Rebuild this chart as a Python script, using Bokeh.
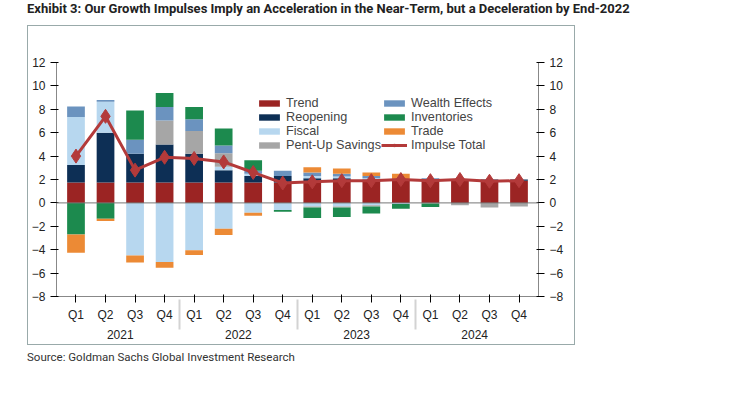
from bokeh.plotting import figure
from bokeh.models import FactorRange, Range1d, LinearAxis, Label, Span, Div, Legend, LegendItem, ColumnDataSource, FixedTicker
from bokeh.layouts import column
from bokeh.embed import file_html
from bokeh.resources import INLINE

years = ["2021", "2022", "2023", "2024"]
quarters = ["Q1", "Q2", "Q3", "Q4"]
trend = [1.75]*8 + [1.8, 1.8, 1.85, 1.9, 1.9, 1.9, 1.9, 1.9]
reopen = [1.5, 4.25, 2.45, 3.25, 2.45, 1.05, 0.55, 0.55, 0.3, 0.3, 0.15, 0.05, 0.1, 0.05, 0.1, 0.1]
fiscal_p = [4.1, 2.65, 0, 0, 0, 0.3, 0.2, 0, 0.2, 0.15, 0.1, 0, 0, 0, 0, 0]
pentup_p = [0, 0, 0, 2.05, 1.95, 1.15, 0, 0, 0, 0, 0, 0, 0, 0, 0, 0]
wealth_p = [0.9, 0.15, 1.2, 1.15, 1.0, 0.65, 0.25, 0.45, 0.3, 0.25, 0.2, 0.1, 0.1, 0, 0, 0]
invent_p = [0, 0, 2.5, 1.2, 1.05, 1.45, 0.9, 0, 0, 0, 0, 0, 0, 0, 0, 0]
trade_p = [0, 0, 0, 0, 0, 0, 0, 0, 0.45, 0.45, 0.3, 0.45, 0, 0, 0, 0]
fiscal_n = [0, 0, -4.5, -5.05, -4.05, -2.2, -0.85, -0.6, -0.3, -0.3, -0.2, -0.1, 0, 0, 0, 0]
pentup_n = [0, 0, 0, 0, 0, 0, 0, 0, -0.1, -0.1, -0.1, 0, -0.05, -0.2, -0.4, -0.3]
invent_n = [-2.7, -1.35, 0, 0, 0, 0, 0, -0.15, -0.9, -0.8, -0.6, -0.4, -0.3, 0, 0, 0]
trade_n = [-1.55, -0.2, -0.6, -0.5, -0.4, -0.55, -0.25, 0, 0, 0, 0, 0, 0, 0, 0, 0]
impulse = [4.0, 7.4, 2.8, 3.9, 3.8, 3.5, 2.6, 1.7, 1.8, 1.9, 1.9, 2.0, 1.9, 2.0, 1.85, 1.9]

x = [(y, q) for y in years for q in quarters]
src = ColumnDataSource(dict(x=x, trend=trend, reopen=reopen, fiscal_p=fiscal_p, pentup_p=pentup_p,
    wealth_p=wealth_p, invent_p=invent_p, trade_p=trade_p, fiscal_n=fiscal_n, pentup_n=pentup_n,
    invent_n=invent_n, trade_n=trade_n, impulse=impulse))

C = dict(trend="#9b2423", reopen="#0d2f55", fiscal="#b7d7ef", pentup="#a6a6a6",
         wealth="#6b93bf", invent="#1c8a4e", trade="#ec8a35", imp="#b33a3a")

p = figure(x_range=FactorRange(*x, factor_padding=0, group_padding=0, range_padding=0.02),
           y_range=Range1d(-8, 12), width=548, height=320, output_backend="svg",
           toolbar_location=None, min_border_left=27, min_border_right=38,
           min_border_top=36, min_border_bottom=50)
p.styles = {"border": "1px solid #9aa"}
p.outline_line_color = None
p.xgrid.visible = False
p.ygrid.visible = False

pos = p.vbar_stack(["trend", "reopen", "fiscal_p", "pentup_p", "wealth_p", "invent_p", "trade_p"],
                   x="x", width=0.6, source=src, line_color=None,
                   color=[C["trend"], C["reopen"], C["fiscal"], C["pentup"], C["wealth"], C["invent"], C["trade"]])
neg = p.vbar_stack(["fiscal_n", "pentup_n", "invent_n", "trade_n"], x="x", width=0.6, source=src,
                   line_color=None, color=[C["fiscal"], C["pentup"], C["invent"], C["trade"]])
p.add_layout(Span(location=0, dimension="width", line_color="#777", line_width=1))
ln = p.line("x", "impulse", source=src, color=C["imp"], line_width=3)
mk = p.scatter("x", "impulse", source=src, marker="diamond", size=14, color=C["imp"])

leg = Legend(items=[
    LegendItem(label="Trend", renderers=[pos[0]]),
    LegendItem(label="Reopening", renderers=[pos[1]]),
    LegendItem(label="Fiscal", renderers=[pos[2]]),
    LegendItem(label="Pent-Up Savings", renderers=[pos[3]]),
    LegendItem(label="Wealth Effects", renderers=[pos[4]]),
    LegendItem(label="Inventories", renderers=[pos[5]]),
    LegendItem(label="Trade", renderers=[pos[6]]),
    LegendItem(label="Impulse Total", renderers=[ln, mk]),
], ncols=2, location=(200, 144), background_fill_alpha=0, border_line_color=None,
   label_text_font_size="9.5pt", label_text_font="Arial", glyph_height=8, glyph_width=26,
   label_height=10, spacing=0, padding=0, margin=0, label_standoff=4)
p.add_layout(leg, "center")

tick = FixedTicker(ticks=list(range(-8, 13, 2)))
p.yaxis.ticker = tick
ra = LinearAxis(ticker=tick)
p.add_layout(ra, "right")
for ax in [p.yaxis[0], ra]:
    ax.major_label_text_font_size = "9pt"
    ax.major_label_text_color = "#222"
    ax.minor_tick_line_color = None
    ax.axis_line_color = "#888"
p.xaxis.major_label_text_font_size = "9pt"
p.xaxis.group_text_font_size = "9pt"
p.xaxis.group_text_color = "#222"
p.xaxis.group_text_font_style = "normal"
p.xaxis.major_label_text_color = "#222"
p.xaxis.axis_line_color = "#888"

for txt, xs in [("Percentage point", 10), ("Contribution  to Real Annualized GDP Forecast", 133), ("Percentage point", 432)]:
    p.add_layout(Label(x=xs, y=288, x_units="screen", y_units="screen", text=txt,
                       text_font_size="9.5pt" if xs != 133 else "8.5pt", text_font="Arial"))

title = Div(text="<b>Exhibit 3: Our Growth Impulses Imply an Acceleration in the Near-Term, but a Deceleration by End-2022</b>",
            styles={"font-family": "Roboto", "font-size": "13px", "color": "#222", "white-space": "nowrap"},
            margin=(0, 0, 6, 27), width=690)
src_div = Div(text="Source: Goldman Sachs Global Investment Research",
              styles={"font-family": "Roboto", "font-size": "11.5px", "color": "#333"}, margin=(4, 0, 0, 27))
p.margin = (0, 0, 0, 27)
lay = column(title, p, src_div)
open("out.html", "w").write(file_html(lay, INLINE))
